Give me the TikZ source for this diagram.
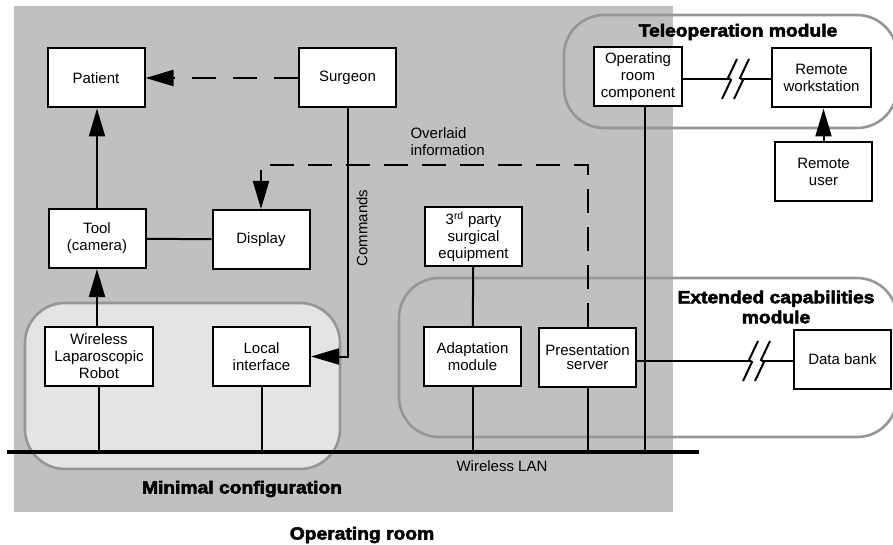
\documentclass[tikz,border=0pt]{standalone}
\usepackage{fontspec}
\setmainfont{Liberation Sans}
\newfontfamily\heavyfont{Liberation Sans}[FakeStretch=1.1, FakeBold=3]
\usepackage{tikz}
\usetikzlibrary{arrows.meta, shapes, positioning}

\definecolor{roomgray}{RGB}{192,192,192}
\definecolor{modgray}{RGB}{150,150,150}
\definecolor{minfill}{RGB}{228,228,228}

\tikzset{
  conn/.style={draw=black, line width=2pt},
  modbox/.style={draw=modgray, line width=2.6pt, rounded corners=40pt},
  title/.style={font=\heavyfont\bfseries\fontsize{17.5}{20}\selectfont, align=center},
  lbl/.style={font=\fontsize{15}{17}\selectfont},
  brk/.pic={
    \draw[conn] (8,-20) -- (-1,-1) -- (2,1) -- (-7,20);
    \draw[conn] (20,-20) -- (11,-1) -- (14,1) -- (5,20);
  }
}

\begin{document}
\begin{tikzpicture}[x=1pt, y=-1pt]
\useasboundingbox (0,0) rectangle (893,545);
\fill[roomgray] (14,6) rectangle (673,512);

\draw[modbox, fill=minfill] (25,303) rectangle (340,469);
\draw[modbox] (399,278) rectangle (897,437);
\draw[modbox] (564,15) rectangle (897,128);

\node[title] (teletitle) at (738,32) {Teleoperation module};
\node[title] (exttitle) at (776,307) {Extended capabilities\\module};
\node[title] (mintitle) at (242,489) {Minimal configuration};
\node[title] (roomtitle) at (362,535) {Operating room};
\node[lbl] (lantext) at (502,466) {Wireless LAN};
\node[lbl, align=left, anchor=west] (ovltext) at (407,142) {Overlaid\\information};
\node[lbl, rotate=90] (cmdtext) at (362,228) {Commands};

\coordinate (lanL) at (7,452);
\coordinate (lanR) at (699,452);
\coordinate (ovl) at (587.5,165);
\coordinate (b1) at (729,79);
\coordinate (b1r) at (741,79);
\coordinate (b2) at (750,361);
\coordinate (b2r) at (762,361);

\begin{scope}[every node/.style={rectangle, draw, line width=2pt, fill=white,
                                 align=center, inner sep=1pt,
                                 minimum width=97pt, minimum height=59pt,
                                 font=\fontsize{15}{17}\selectfont}]
  \node (pat) at (96,78) {Patient};
  \node (sur) at (347.5,78) {Surgeon};
  \node (tool) at (97,238.5) {Tool\\(camera)};
  \node (disp) at (261,239.5) {Display};
  \node (trd) at (473.5,236.5) {3\textsuperscript{rd} party\\surgical\\equipment};
  \node (ada) at (472.5,356.5) {Adaptation\\module};
  \node[font=\fontsize{15}{14}\selectfont] (pres) at (587.5,357.5) {Presentation\\server};
  \node[minimum width=88pt] (orc) at (638,76.5) {Operating\\room\\component};
  \node[minimum width=99pt] (rws) at (821.5,78) {Remote\\workstation};
  \node (rus) at (823.5,171.5) {Remote\\user};
  \node (db) at (842.5,359.5) {Data bank};
  \node[minimum width=108pt] (rob) at (99,356.5) {Wireless\\Laparoscopic\\Robot};
  \node (loc) at (261.5,356.5) {Local\\interface};
\end{scope}

\begin{scope}[>={Triangle[length=28pt, width=16pt]},
              every edge/.style={conn}]
  \draw[line width=4pt] (lanL) -- (lanR);
  \foreach \n in {rob, loc, ada, pres}
    \draw[conn] (\n.south) -- (\n.south |- lanL);
  \draw[conn] ([xshift=7pt]orc.south) -- ([xshift=7pt]orc.south |- lanL);
  \path[->] (sur) edge[dash pattern=on 24pt off 17pt] (pat);
  \path[->] (tool.north) edge (tool.north |- pat.south);
  \path[->] (rob.north -| tool) edge (tool.south);
  \path (tool) edge (disp);
  \path (trd) edge (ada);
  \draw[conn, ->] (sur.south) |- (loc.east);
  \draw[conn, ->, dash pattern=on 24pt off 14pt] (pres.north) -- (ovl) -| (disp.north);
  \path[->] (rus.north) edge (rus.north |- rws.south);
  \draw[conn] (orc.east |- b1) -- (b1);
  \draw[conn] (b1r) -- (rws.west |- b1r);
  \pic at (b1) {brk};
  \draw[conn] (pres.east |- b2) -- (b2);
  \draw[conn] (b2r) -- (db.west |- b2r);
  \pic at (b2) {brk};
\end{scope}

\end{tikzpicture}
\end{document}
